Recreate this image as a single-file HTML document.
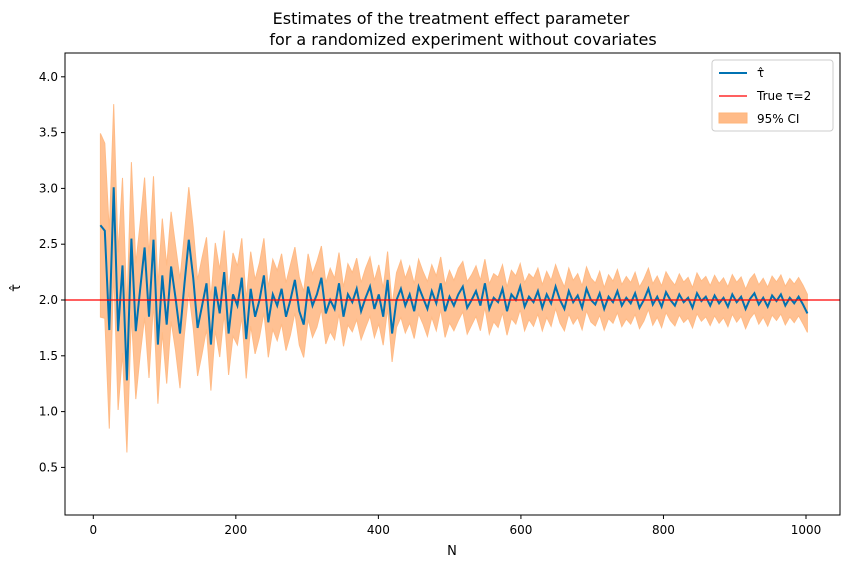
<!DOCTYPE html>
<html><head><meta charset="utf-8"><style>
body{margin:0;background:#fff;font-family:"Liberation Sans","DejaVu Sans",sans-serif;}
svg text{font-family:"DejaVu Sans","Liberation Sans",sans-serif;}
</style></head><body>
<svg id="chart" width="849" height="568" xmlns="http://www.w3.org/2000/svg">
<text x="451" y="24" text-anchor="middle" font-size="16">Estimates of the treatment effect parameter</text>
<text x="463" y="45" text-anchor="middle" font-size="16">for a randomized experiment without covariates</text>
<g id="plot"></g>
<text x="452" y="555" text-anchor="middle" font-size="13">N</text>
<text x="20" y="288" text-anchor="middle" font-size="13" transform="rotate(-90 20 288)">τ̂</text>
</svg>
<script>
const nStart = 10, nStep = 6.2;
const tauValues = [2.67,2.62,1.73,3.01,1.72,2.31,1.28,2.55,1.72,2.10,2.47,1.85,2.54,1.60,2.22,1.78,2.30,2.02,1.70,2.14,2.54,
2.20,1.75,1.95,2.15,1.60,2.12,1.88,2.25,1.70,2.05,1.95,2.20,1.65,2.10,1.85,2.00,2.22,1.80,2.05,1.95,
2.10,1.85,2.00,2.18,1.90,1.78,2.12,1.95,2.05,2.20,1.88,2.00,1.92,2.15,1.85,2.05,1.98,2.10,1.90,2.02,
2.12,1.92,2.05,1.85,2.18,1.70,2.00,2.10,1.95,2.05,1.90,2.12,2.02,1.92,2.08,1.97,2.15,1.90,2.03,1.95,
2.05,2.12,1.93,2.00,2.08,1.95,2.15,1.92,2.02,1.98,2.10,1.90,2.05,2.00,2.12,1.94,2.03,1.98,2.08,1.93,
2.05,1.97,2.12,2.00,1.92,2.08,1.98,2.04,1.93,2.10,2.00,1.96,2.06,1.92,2.03,1.98,2.08,1.95,2.02,1.97,
2.06,1.93,2.00,2.10,1.96,2.03,1.94,2.07,2.00,1.95,2.05,1.98,2.02,1.93,2.06,1.99,2.03,1.95,2.04,1.97,
2.02,1.94,2.05,1.98,2.03,1.92,2.01,2.06,1.96,2.02,1.94,2.04,1.99,2.05,1.95,2.02,1.97,2.03,1.96,1.88];
const seValues = [0.42,0.40,0.45,0.38,0.36,0.40,0.33,0.35,0.31,0.30,0.32,0.28,0.29,0.27,0.26,0.27,0.25,0.24,0.25,0.23,0.24,
0.23,0.22,0.22,0.21,0.21,0.20,0.20,0.19,0.19,0.19,0.18,0.18,0.18,0.17,0.17,0.17,0.17,0.16,0.16,0.16,
0.16,0.155,0.16,0.15,0.155,0.15,0.15,0.145,0.15,0.145,0.14,0.145,0.14,0.14,0.135,0.14,0.135,0.14,0.13,0.135,
0.135,0.13,0.135,0.13,0.13,0.13,0.125,0.13,0.125,0.13,0.125,0.125,0.12,0.125,0.12,0.125,0.12,0.12,0.12,0.115,
0.12,0.115,0.12,0.115,0.115,0.115,0.11,0.115,0.11,0.115,0.11,0.11,0.11,0.11,0.105,0.11,0.105,0.11,0.105,0.105,
0.105,0.105,0.1,0.105,0.1,0.105,0.1,0.1,0.1,0.1,0.1,0.098,0.1,0.097,0.1,0.096,0.098,0.096,0.097,0.095,
0.096,0.095,0.096,0.094,0.095,0.094,0.095,0.093,0.094,0.093,0.094,0.092,0.093,0.092,0.093,0.092,0.092,0.091,0.092,0.091,
0.091,0.091,0.09,0.091,0.09,0.09,0.09,0.089,0.09,0.089,0.089,0.089,0.088,0.089,0.088,0.088,0.088,0.087,0.088,0.087];
const xTicks = [0,200,400,600,800,1000];
const yTicks = [0.5,1.0,1.5,2.0,2.5,3.0,3.5,4.0];
const trueTau = 2;

const L=65,R=840,T=53,B=515;
const xs=v=>93.3+(v)*(806-93.3)/1000;
const ys=v=>300-(v-2)*111.6;
const NS='http://www.w3.org/2000/svg';
const g=document.getElementById('plot');
function mk(tag,attrs){const e=document.createElementNS(NS,tag);for(const k in attrs)e.setAttribute(k,attrs[k]);g.appendChild(e);return e;}
const ns=tauValues.map((_,i)=>nStart+nStep*i);
let up=[],lo=[];
tauValues.forEach((t,i)=>{up.push(xs(ns[i]).toFixed(1)+','+ys(t+1.96*seValues[i]).toFixed(1));lo.unshift(xs(ns[i]).toFixed(1)+','+ys(t-1.96*seValues[i]).toFixed(1));});
const band=mk('polygon',{points:up.concat(lo).join(' '),fill:'#ffbb88',stroke:'#ffb47a','stroke-width':1,opacity:0.9});


const line=mk('polyline',{points:tauValues.map((t,i)=>xs(ns[i]).toFixed(1)+','+ys(t).toFixed(1)).join(' '),fill:'none',stroke:'#0072b2','stroke-width':2});


const tl=mk('line',{x1:L,x2:R,y1:ys(trueTau),y2:ys(trueTau),stroke:'#ff0000','stroke-width':1.3});


const fr=mk('rect',{x:L,y:T,width:R-L,height:B-T,fill:'none',stroke:'#000','stroke-width':1});


xTicks.forEach(v=>{
  mk('line',{x1:xs(v),x2:xs(v),y1:B,y2:B+4,stroke:'#000'});
  const t=mk('text',{x:xs(v),y:B+19,'text-anchor':'middle','font-size':12});t.textContent=v;
  
  
});
yTicks.forEach(v=>{
  mk('line',{x1:L-4,x2:L,y1:ys(v),y2:ys(v),stroke:'#000'});
  const t=mk('text',{x:L-7,y:ys(v)+4,'text-anchor':'end','font-size':12});t.textContent=v.toFixed(1);
  
  
});
const lg=mk('rect',{x:712,y:60,width:121,height:71,fill:'#fff',stroke:'#ccc',rx:3});


mk('line',{x1:719,x2:747,y1:73,y2:73,stroke:'#0072b2','stroke-width':2});
let t1=mk('text',{x:757,y:77,'font-size':12});t1.textContent='τ̂';


mk('line',{x1:719,x2:747,y1:96,y2:96,stroke:'#ff0000','stroke-width':1.3});
let t2=mk('text',{x:757,y:100,'font-size':12});t2.textContent='True τ=2';


mk('rect',{x:719,y:113,width:28,height:10,fill:'#ffbb88',stroke:'#ffb47a'});
let t3=mk('text',{x:757,y:123,'font-size':12});t3.textContent='95% CI';


</script>
</body></html>
